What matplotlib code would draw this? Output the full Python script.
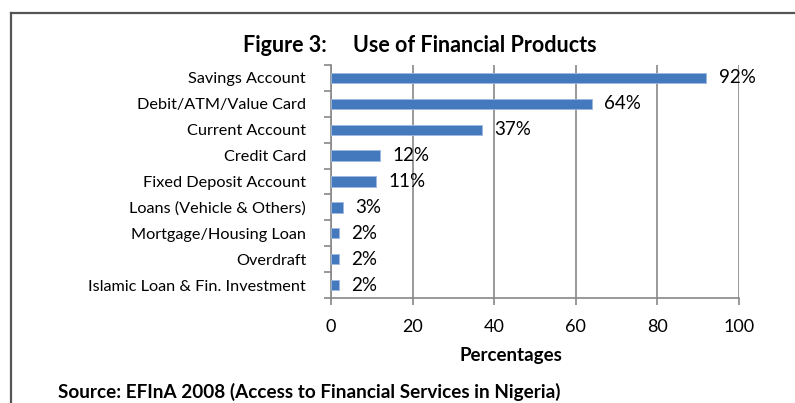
import matplotlib.pyplot as plt
from matplotlib.lines import Line2D

# Data
products = ["Savings Account", "Debit/ATM/Value Card", "Current Account", "Credit Card",
            "Fixed Deposit Account", "Loans (Vehicle & Others)", "Mortgage/Housing Loan",
            "Overdraft", "Islamic Loan & Fin. Investment"]
usage = [92, 64, 37, 12, 11, 3, 2, 2, 2]
x_ticks = [0, 20, 40, 60, 80, 100]

plt.rcParams['font.family'] = ['Lato', 'DejaVu Sans']

fig = plt.figure(figsize=(7.95, 4.03), dpi=100)
ax = fig.add_axes([0.4164, 0.2605, 0.5132, 0.5782])

ypos = list(range(len(products)))[::-1]
ax.barh(ypos, usage, height=0.4, color="#4479BE", edgecolor="#9DB9DE", linewidth=0.6, zorder=3)
for y, v in zip(ypos, usage):
    ax.text(v + 3, y, f"{v}%", va="center", ha="left", fontsize=13.5, zorder=4)

ax.set_xlim(0, 100)
ax.set_ylim(-0.5, len(products) - 0.5)
ax.set_xticks(x_ticks)
ax.set_yticks(ypos)
ax.set_yticklabels(products, fontsize=11.7)
ax.set_yticks([y + 0.5 for y in range(-1, len(products))], minor=True)
ax.tick_params(axis="y", which="major", length=0, pad=18)
ax.tick_params(axis="y", which="minor", length=5, color="#888888", width=1.2)
ax.tick_params(axis="x", length=5, color="#888888", width=1.2, labelsize=13, pad=10)
ax.grid(axis="x", color="#888888", linewidth=1.2, zorder=0)
for s in ["top", "right"]:
    ax.spines[s].set_visible(False)
for s in ["left", "bottom"]:
    ax.spines[s].set_color("#888888")
    ax.spines[s].set_linewidth(1.2)

fig.text(0.643, 0.118, "Percentages", ha="center", va="center",
         fontsize=13.5, fontweight="bold")
fig.text(0.528, 0.888, "Figure 3:     Use of Financial Products", ha="center", va="center",
         fontsize=15.5, fontweight="bold")
fig.text(0.073, 0.027, "Source: EFInA 2008 (Access to Financial Services in Nigeria)",
         ha="left", va="center", fontsize=13.6, fontweight="bold")

# frame lines
fig.add_artist(Line2D([0.014, 0.014], [0.0, 0.968], color="#555555", linewidth=1.6))
fig.add_artist(Line2D([0.014, 1.0], [0.968, 0.968], color="#555555", linewidth=1.6))

fig.savefig("out.png", dpi=100)
